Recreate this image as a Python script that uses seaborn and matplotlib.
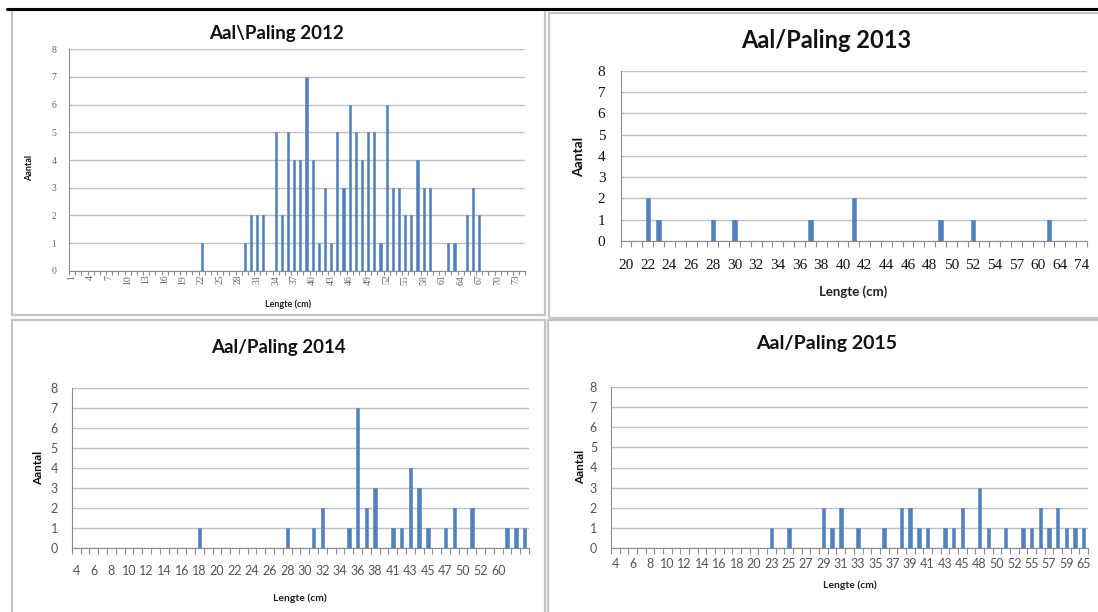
import numpy as np
import pandas as pd
import matplotlib
matplotlib.use("Agg")
import matplotlib.pyplot as plt
from matplotlib.patches import Rectangle
from matplotlib.lines import Line2D
import seaborn as sns

# ---- data: eel (aal/paling) length frequencies per year ----
cats_2012 = [str(v) for v in range(1, 75)]
bars_2012 = {"22": 1, "29": 1, "30": 2, "31": 2, "32": 2, "34": 5, "35": 2, "36": 5,
             "37": 4, "38": 4, "39": 7, "40": 4, "41": 1, "42": 3, "43": 1, "44": 5,
             "45": 3, "46": 6, "47": 5, "48": 4, "49": 5, "50": 5, "51": 1, "52": 6,
             "53": 3, "54": 3, "55": 2, "56": 2, "57": 4, "58": 3, "59": 3, "62": 1,
             "63": 1, "65": 2, "66": 3, "67": 2}
ticks_2012 = [str(v) for v in range(1, 75, 3)]

cats_2013 = [str(v) for v in range(20, 55)] + ["55", "57", "58", "60", "62", "64", "66", "74"]
bars_2013 = {"22": 2, "23": 1, "28": 1, "30": 1, "37": 1, "41": 2, "49": 1, "52": 1, "62": 1}
ticks_2013 = cats_2013[::2]

cats_2014 = [str(v) for v in range(4, 39)] + ["40", "41", "42", "43", "44", "45", "46", "47",
                                              "48", "50", "51", "52", "55", "60", "61", "62", "64"]
bars_2014 = {"18": 1, "28": 1, "31": 1, "32": 2, "35": 1, "36": 7, "37": 2, "38": 3,
             "41": 1, "42": 1, "43": 4, "44": 3, "45": 1, "47": 1, "48": 2, "51": 2,
             "61": 1, "62": 1, "64": 1}
ticks_2014 = cats_2014[:49:2]

cats_2015 = ([str(v) for v in range(4, 21)] + [str(v) for v in range(22, 46)] +
             ["47", "48", "49", "50", "51", "52", "54", "55", "56", "57", "58", "59", "62", "65"])
bars_2015 = {"23": 1, "25": 1, "29": 2, "30": 1, "31": 2, "33": 1, "36": 1, "38": 2,
             "39": 2, "40": 1, "41": 1, "43": 1, "44": 1, "45": 2, "48": 3, "49": 1,
             "51": 1, "54": 1, "55": 1, "56": 2, "57": 1, "58": 2, "59": 1, "62": 1, "65": 1}
ticks_2015 = cats_2015[::2]

titles = ["Aal\\Paling 2012", "Aal/Paling 2013", "Aal/Paling 2014", "Aal/Paling 2015"]

W, H = 1098, 612
BAR = "#4F81BD"
GRID = "#c0c0c0"
AXIS = "#8c8c8c"

sns.set_style("white")
plt.rcParams["font.family"] = ["Lato", "DejaVu Sans"]

fig = plt.figure(figsize=(W / 100, H / 100), dpi=100)
fig.patch.set_facecolor("white")


def px_axes(l, t, r, b):
    return fig.add_axes([l / W, 1 - b / H, (r - l) / W, (b - t) / H])


def ftext(x, y, s, **kw):
    fig.text(x / W, 1 - y / H, s, **kw)


def panel(box, cats, bars, ticks, cfg):
    ax = px_axes(*box)
    df = pd.DataFrame({"lengte": cats, "aantal": [bars.get(c, 0) for c in cats]})
    sns.barplot(data=df, x="lengte", y="aantal", order=cats, color=BAR,
                saturation=1, width=cfg["bw"], errorbar=None, ax=ax,
                edgecolor=BAR, linewidth=0.4)
    n = len(cats)
    ax.set_xlim(-0.5, n - 0.5)
    ax.set_ylim(0, 8)
    ax.set_yticks(range(0, 9))
    ax.yaxis.grid(True, color=GRID, lw=1.0)
    ax.set_axisbelow(True)
    for s in ("top", "right"):
        ax.spines[s].set_visible(False)
    for s in ("left", "bottom"):
        ax.spines[s].set_color(AXIS)
        ax.spines[s].set_linewidth(0.8)
    ax.set_xlabel("")
    ax.set_ylabel("")
    pos = [cats.index(t) for t in ticks]
    ax.set_xticks(pos)
    ax.set_xticklabels(ticks, rotation=cfg.get("rot", 0),
                       fontsize=cfg["xfs"], color=cfg["tcol"],
                       fontfamily=cfg["tfam"])
    ax.set_xticks(np.arange(-0.5, n, 1.0), minor=True)
    ax.tick_params(axis="x", which="major", length=0, pad=cfg["xpad"])
    ax.tick_params(axis="x", which="minor", length=cfg["tl"], color=AXIS, width=0.8,
                   direction="out", bottom=True)
    ax.tick_params(axis="y", which="major", length=3, color=AXIS, width=0.8,
                   pad=cfg["ypad"], labelsize=cfg["yfs"], labelcolor=cfg["tcol"])
    for lab in ax.get_yticklabels():
        lab.set_fontfamily(cfg["tfam"])
    return ax


cfgs = [
    dict(rot=90, xfs=7, yfs=7, tcol="#666666", tfam=["Liberation Serif"], xpad=3, ypad=6, tl=3, bw=0.35),
    dict(xfs=11, yfs=11, tcol="#111111", tfam=["Liberation Serif"], xpad=13, ypad=8, tl=4, bw=0.4),
    dict(xfs=9, yfs=9, tcol="#555555", tfam=["Lato"], xpad=12, ypad=7, tl=4, bw=0.4),
    dict(xfs=9, yfs=9, tcol="#555555", tfam=["Lato"], xpad=7, ypad=7, tl=4, bw=0.4),
]

boxes = [(69, 49.3, 525.4, 270.7), (620.6, 71, 1087, 241),
         (71.9, 388, 529, 548), (611, 387, 1088, 548)]
datasets = [(cats_2012, bars_2012, ticks_2012), (cats_2013, bars_2013, ticks_2013),
            (cats_2014, bars_2014, ticks_2014), (cats_2015, bars_2015, ticks_2015)]

for box, (c, b, t), cfg in zip(boxes, datasets, cfgs):
    panel(box, c, b, t, cfg)

# titles and axis titles
title_spec = [(276, 34, 13.5), (826, 40, 17), (278, 347, 13.5), (827, 344, 14)]
ylab_spec = [(30, 168, 6.5), (579, 157, 10), (38.6, 468, 8.5), (581, 467, 8.5)]
xlab_spec = [(288, 304, 6.5), (853, 292, 9.5), (300, 598, 7.5), (850, 585, 7.5)]
for s, (x, y, fs) in zip(titles, title_spec):
    ftext(x, y, s, ha="center", va="center", fontsize=fs, fontweight="bold", color="#111111")
for (x, y, fs) in ylab_spec:
    ftext(x, y, "Aantal", ha="center", va="center", rotation=90, fontsize=fs,
          fontweight="bold", color="#111111")
for (x, y, fs) in xlab_spec:
    ftext(x, y, "Lengte (cm)", ha="center", va="center", fontsize=fs,
          fontweight="bold", color="#222222")

# panel frames
frames = [(11.5, 10.5, 545, 315), (549, 13, 1100, 318), (12, 320, 545, 614), (548, 319.5, 1100, 614)]
for (l, t, r, b) in frames:
    fig.patches.append(Rectangle((l / W, 1 - b / H), (r - l) / W, (b - t) / H,
                                 transform=fig.transFigure, fill=False,
                                 edgecolor="#c4c4c4", lw=1.6, zorder=0))

# heavy rule along the top
fig.lines.append(Line2D([7 / W, 1.0], [1 - 8.5 / H, 1 - 8.5 / H], transform=fig.transFigure,
                        color="black", lw=2.2))

fig.savefig("out.png", dpi=100, facecolor="white")
